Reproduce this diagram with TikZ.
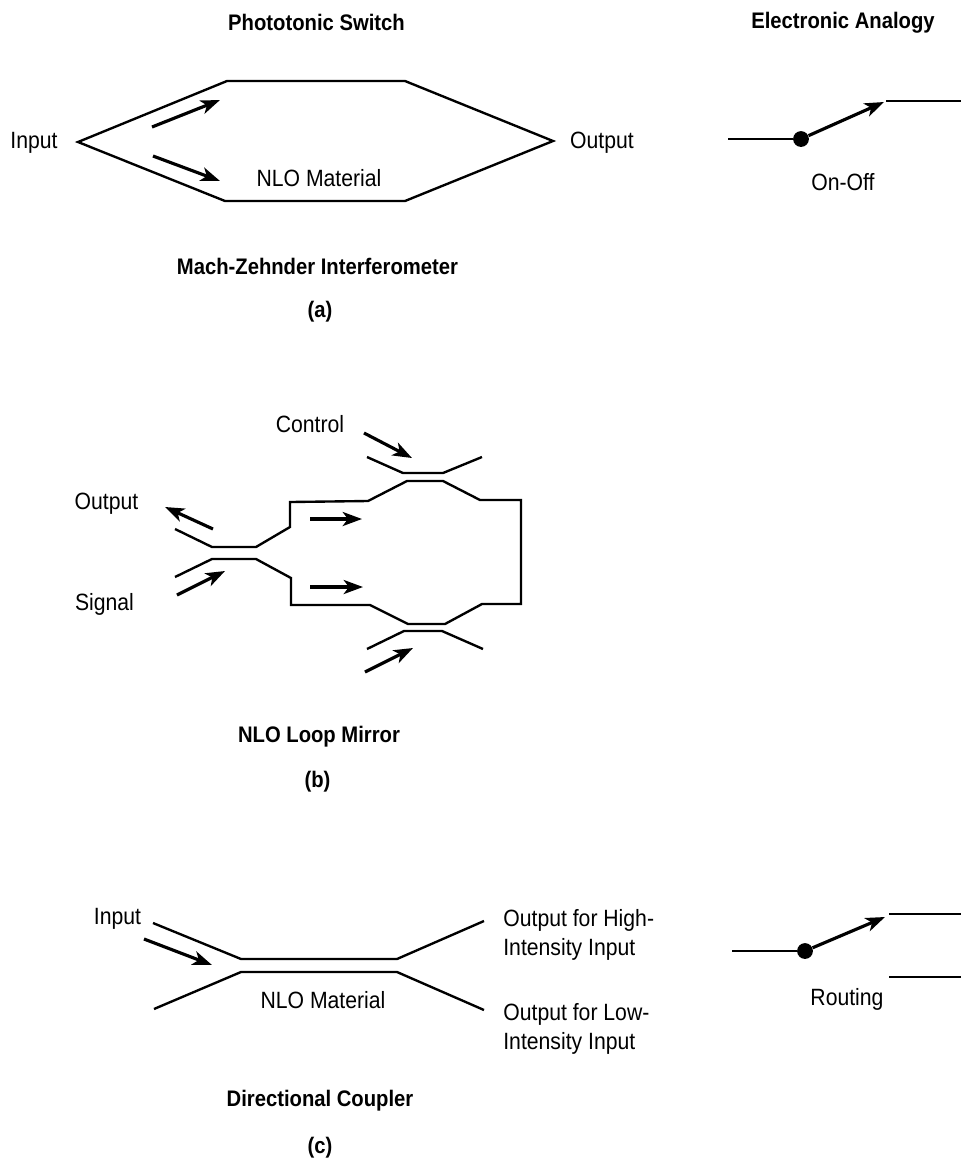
\documentclass[tikz,border=0pt]{standalone}
\usepackage{fontspec}
\setmainfont[FakeStretch=0.9]{Liberation Sans}
\usetikzlibrary{arrows.meta,positioning}

\begin{document}
\begin{tikzpicture}[x=0.02cm, y=-0.02cm]
	\tikzstyle{Guide}	= [line width=1.35pt, line join=miter]
	\tikzstyle{Light}	= [line width=1.8pt, -{Stealth[length=11pt, width=8pt, inset=3pt]}]
	\tikzstyle{Pivot}	= [circle, fill=black, minimum size=9pt, inner sep=0pt]
	\tikzstyle{Label}	= [font=\fontsize{13.4}{16.4}\selectfont, inner sep=0pt, align=left]
	\tikzstyle{Title}	= [Label, font=\fontsize{12.8}{15}\selectfont\bfseries]

	\useasboundingbox (0,0) rectangle (961,1161);

	\node (titleswitch) at (316.5,22) [Title] {Phototonic Switch};
	\node (titleanalogy) at (843,23) [Title] {Electronic Analogy};

	% (a)
	\node (ainput) at (34,143) [Label] {Input};
	\node (aoutput) at (602,143) [Label] {Output};
	\node (amaterial) at (319,178) [Label] {NLO Material};
	\node (onoff) at (843,182) [Label] {On-Off};
	\node (aname) at (317.5,266) [Title] {Mach-Zehnder Interferometer};
	\node (atag) at (320,312) [Title] {(a)};
	\foreach \n/\x/\y in {al/78/142, atl/227/81, atr/405/81, ar/553/141, abr/405/201, abl/225/201,
			aua/152/127, aub/220/100, ada/153/156, adb/220/181,
			swa/728/139, swb/884/102, swc/886/101, swd/961/101}
		\coordinate (\n) at (\x, \y);
	\draw [Guide] (al) -- (atl) -- (atr) -- (ar) -- (abr) -- (abl) -- cycle;
	\foreach \a/\b in {aua/aub, ada/adb}
		\draw [Light] (\a) to (\b);
	\node (swdot) at (801,139) [Pivot] {};
	\draw [Guide] (swa) -- (swdot);
	\draw [Guide] (swc) -- (swd);
	\draw [Light] (swdot) to (swb);

	% (b)
	\node (bcontrol) at (310,424) [Label] {Control};
	\node (boutput) at (106.5,504) [Label] {Output};
	\node (bsignal) at (104.5,604) [Label] {Signal};
	\node (bname) at (319,737) [Title] {NLO Loop Mirror};
	\node (btag) at (317.5,782) [Title] {(b)};
	\foreach \n/\x/\y in {ca/367/457, cb/403/473, cc/443/473, cd/482/457,
			ua/175/529, ub/212/547, uc/256/547, ud/290/527, ue/290/502, uf/368/501, ug/407/481, uh/443/481, ui/480/500, uj/521/500,
			uk/521/604, ul/482/604, um/445/624, un/408/624, uo/370/605, up/291/605, uq/291/578, ur/256/559, us/212/559, ut/175/577,
			da/367/649, db/404/631, dc/442/631, dd/483/649,
			bca/364/433, bcb/412/458, boa/213/529, bob/165/507, bsa/177/595, bsb/225/571,
			bua/310/519, bub/362/519, bda/310/587, bdb/363/587, bba/365/672, bbb/413/648}
		\coordinate (\n) at (\x, \y);
	\draw [Guide] (ca) -- (cb) -- (cc) -- (cd);
	\draw [Guide] (ua) -- (ub) -- (uc) -- (ud) -- (ue) -- (uf) -- (ug) -- (uh) -- (ui) -- (uj) -- (uk) -- (ul) -- (um) -- (un) -- (uo) -- (up) -- (uq) -- (ur) -- (us) -- (ut);
	\draw [Guide] (da) -- (db) -- (dc) -- (dd);
	\foreach \a/\b in {bca/bcb, boa/bob, bsa/bsb, bua/bub, bda/bdb, bba/bbb}
		\draw [Light] (\a) to (\b);

	% (c)
	\node (cinput) at (117.5,919) [Label] {Input};
	\node (chigh) at (503,935) [Label, anchor=west] {Output for High-\\Intensity Input};
	\node (clow) at (503,1029) [Label, anchor=west] {Output for Low-\\Intensity Input};
	\node (cmaterial) at (323,1000) [Label] {NLO Material};
	\node (routing) at (847,999) [Label] {Routing};
	\node (cname) at (320,1101) [Title] {Directional Coupler};
	\node (ctag) at (320,1148) [Title] {(c)};
	\foreach \n/\x/\y in {ea/153/923, eb/241/959, ec/397/959, ed/484/921,
			fa/154/1009, fb/241/972, fc/397/972, fd/484/1010,
			cia/144/939, cib/212/965,
			rta/732/951, rtb/885/917, rtc/889/914, rtd/961/914, rte/889/977, rtf/961/977}
		\coordinate (\n) at (\x, \y);
	\draw [Guide] (ea) -- (eb) -- (ec) -- (ed);
	\draw [Guide] (fa) -- (fb) -- (fc) -- (fd);
	\draw [Light] (cia) to (cib);
	\node (rtdot) at (805,951) [Pivot] {};
	\draw [Guide] (rta) -- (rtdot);
	\draw [Guide] (rtc) -- (rtd);
	\draw [Guide] (rte) -- (rtf);
	\draw [Light] (rtdot) to (rtb);
\end{tikzpicture}
\end{document}
